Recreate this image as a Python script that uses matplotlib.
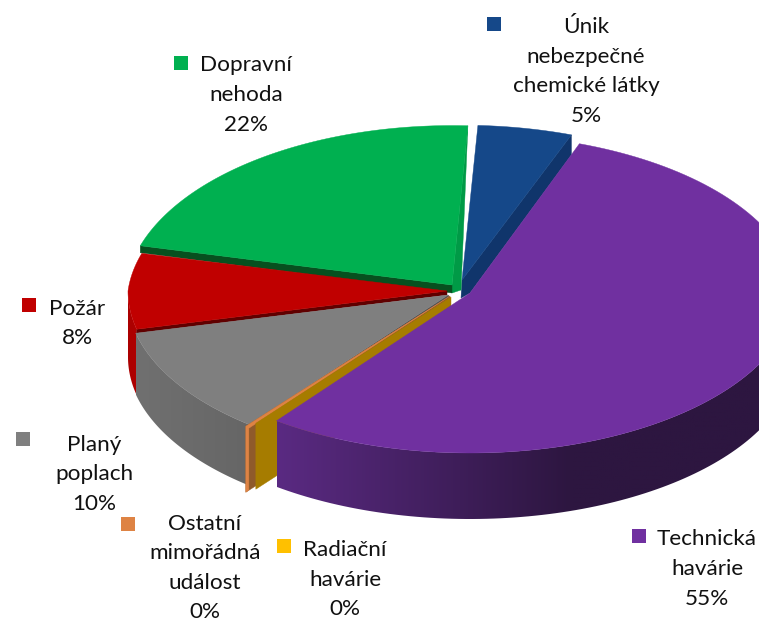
import numpy as np
import matplotlib
matplotlib.use('Agg')
import matplotlib.pyplot as plt
from matplotlib.patches import Polygon, Rectangle

plt.rcParams['font.family'] = ['Lato', 'DejaVu Sans']

# data, clockwise from the blue slice
names = ["Únik\nnebezpečné\nchemické látky", "Technická\nhavárie", "Radiační\nhavárie",
         "Ostatní\nmimořádná\nudálost", "Planý\npoplach", "Požár", "Dopravní\nnehoda"]
values = [5, 55, 0, 0, 10, 8, 22]
colors = ["#154889", "#7030A0", "#FFC000", "#DE8344", "#7F7F7F", "#C00000", "#00B050"]
start_angle = 3

# layout of the slices in pixels: rim centre, apex, radii, correction of the angles
centers = [(462, 280), (470, 288), (461, 295), (451, 298), (448, 295), (447, 291), (452, 285)]
apexes = [(462, 280), (470, 293), (451, 297), (450, 296), (448, 295), (447, 291), (452, 285)]
radii = [(326, 166), (326, 165), (326, 165), (326, 165), (321, 165), (319, 165), (326, 171)]
fixes = [(0, 0), (0, -2.6), (0, 0), (0, 0), (-0.7, 1.6), (1.6, -0.4), (-0.3, 0)]
depth = 66
persp = 0.0725

# legend squares and text centres
keys = [(487, 17), (632, 529), (277, 539), (121, 517), (16, 432), (22, 298), (174, 56)]
text_pos = [(586, 71.5), (707, 569), (345, 579.5), (205, 568), (94, 474.5), (77, 323.5), (246, 95)]


def rim(i, t):
    t = np.radians(t)
    x = np.sin(t)
    y = np.cos(t)
    f = 1 / (1 + persp * np.maximum(y, 0))
    return centers[i][0] + radii[i][0] * x * f, centers[i][1] - radii[i][1] * y * f


def top(i, t1, t2, color):
    ts = np.linspace(t1, t2, 120)
    xs, ys = rim(i, ts)
    pts = [apexes[i]] + list(zip(xs, ys))
    ax.add_patch(Polygon(pts, closed=True, fc=color, ec=color, lw=0.3))


def side(i, t1, t2, xr, c0, c1, dep=depth):
    # outer wall, a left to right gradient clipped to the wall's outline
    ts = np.linspace(t1, t2, 120)
    xs, ys = rim(i, ts)
    pts = list(zip(xs, ys)) + list(zip(xs[::-1], ys[::-1] + dep))
    wall = Polygon(pts, closed=True, fc='none', ec='none', transform=ax.transData)
    ax.add_patch(wall)
    a = np.array(matplotlib.colors.to_rgb(c0))
    b = np.array(matplotlib.colors.to_rgb(c1))
    gx = np.linspace(xs.min(), xs.max(), 256)
    k = np.clip((gx - xr[0]) / (xr[1] - xr[0]), 0, 1)[:, None]
    grad = (a + (b - a) * k)[None, :, :]
    im = ax.imshow(grad, extent=(gx[0], gx[-1], ys.max() + dep, ys.min()), aspect='auto',
                   interpolation='bilinear', zorder=1)
    im.set_clip_path(wall)


def poly(pts, color):
    ax.add_patch(Polygon(pts, closed=True, fc=color, ec=color, lw=0.3))


fig = plt.figure(figsize=(7.59, 6.23), dpi=100)
ax = fig.add_axes([0, 0, 1, 1])

edges = start_angle + np.cumsum([0] + values) * 3.6
t1s = [edges[i] + fixes[i][0] for i in range(7)]
t2s = [edges[i + 1] + fixes[i][1] for i in range(7)]

# blue
x, y = rim(0, t2s[0])
poly([(x, y), (x, y + 20), (470, 293), (461, 298), apexes[0]], "#10356B")
top(0, t1s[0], t2s[0], colors[0])

# green
x, y = rim(6, t2s[6])
poly([(x, y), (461, 290), (452, 293), apexes[6]], "#009A46")
x, y = rim(6, t1s[6])
poly([(x, y), (x, y + 7), (452, 293), apexes[6]], "#07501F")
top(6, t1s[6], t2s[6], colors[6])

# red
side(5, t1s[5], 270, (120, 140), "#A80000", "#B00000")
x, y = rim(5, t1s[5])
poly([(x, y), (x, y + 4), (447, 295), apexes[5]], "#600000")
top(5, t1s[5], t2s[5], colors[5])

# gray
side(4, t1s[4], t2s[4], (137, 247), "#707070", "#666666", dep=61)
x, y = rim(4, t1s[4])
poly([(x, y), (x, y + 4), (450, 297), apexes[4]], "#555555")
top(4, t1s[4], t2s[4], colors[4])

# the two empty slices only show their walls
for i, wall in ((3, "#8F5A2B"), (2, "#A67C00")):
    x, y = rim(i, t1s[i])
    ax0, ay0 = apexes[i]
    poly([(ax0, ay0), (x, y), (x, y + depth), (ax0, ay0 + depth)], wall)
    if i == 3:
        poly([(ax0, ay0), (x, y), (x, y + depth), (x + 3, y + depth - 2), (x + 3, y + 2)], colors[3])

# purple
side(1, t2s[1], 70, (276, 570), "#5A2A82", "#2D1640")
top(1, t1s[1], t2s[1], colors[1])

for i in range(7):
    ax.add_patch(Rectangle(keys[i], 14, 14, fc=colors[i], ec='none'))
    ax.text(text_pos[i][0], text_pos[i][1], "%s\n%d%%" % (names[i], values[i]), ha='center', va='center',
            fontsize=16.2, linespacing=1.6, color="#111111")

ax.set_xlim(0, 759)
ax.set_ylim(623, 0)
ax.axis('off')

fig.savefig("out.png", dpi=100)
